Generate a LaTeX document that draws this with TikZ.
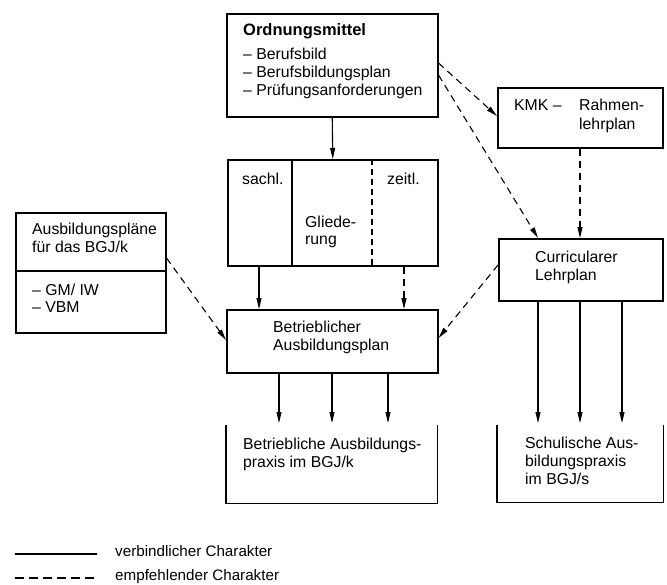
\documentclass[tikz,border=0pt]{standalone}
\usepackage{fontspec}
\setmainfont{Liberation Sans}
\usetikzlibrary{arrows.meta,calc}
\begin{document}
\begin{tikzpicture}[x=1pt,y=-1pt,
  box/.style={draw,line width=1.5pt,inner sep=0pt,anchor=north west},
  openbox/.style={inner sep=0pt,anchor=north west},
  txt/.style={anchor=mid west,inner sep=0pt,font=\fontsize{15.8}{18}\selectfont},
  ltxt/.style={anchor=mid west,inner sep=0pt,font=\fontsize{15.2}{18}\selectfont},
  arr/.style={line width=1.1pt,-{Triangle[length=11pt,width=5pt]}},
  darr/.style={line width=1.1pt,dash pattern=on 7pt off 5pt,-{Triangle[length=11pt,width=5pt]}},
  dline/.style={line width=1.1pt,dash pattern=on 9pt off 5pt}]
\useasboundingbox (0,0) rectangle (667,584);
% boxes
\node[box,minimum width=211,minimum height=103] (om) at (226,13) {};
\node[box,minimum width=165,minimum height=60] (kmk) at (497,87) {};
\node[box,minimum width=210,minimum height=106] (gl) at (227,159) {};
\node[box,minimum width=150,minimum height=120] (ap) at (15,212) {};
\node[box,minimum width=164,minimum height=62] (cl) at (498,238) {};
\node[box,minimum width=211,minimum height=63] (bp) at (226,309) {};
\node[openbox,minimum width=211,minimum height=78] (bx) at (226,425) {};
\node[openbox,minimum width=166,minimum height=77] (sx) at (497,425) {};
\draw[line width=1.5pt] (bx.north west) |- (bx.south east) -- (bx.north east);
\draw[line width=1.5pt] (sx.north west) |- (sx.south east) -- (sx.north east);
% dividers
\draw[line width=1.3pt] (292,0 |- gl.north) -- (292,0 |- gl.south);
\draw[line width=1.3pt,dash pattern=on 6pt off 4pt] (372,0 |- gl.north) -- (372,0 |- gl.south);
\draw[line width=1.3pt] (ap.west |- 0,271) -- (ap.east |- 0,271);
% texts
\node[txt,font=\fontsize{16.5}{18}\selectfont\bfseries] (t1) at (243,33) {Ordnungsmittel};
\node[txt] (t2) at (243,57) {– Berufsbild};
\node[txt] (t3) at (243,75) {– Berufsbildungsplan};
\node[txt] (t4) at (243,93) {– Prüfungsanforderungen};
\node[txt] (t5) at (514,108) {KMK –};
\node[txt] (t6) at (579,108) {Rahmen-};
\node[txt] (t7) at (579,127) {lehrplan};
\node[txt] (t8) at (242,182) {sachl.};
\node[txt] (t9) at (387,182) {zeitl.};
\node[txt] (t10) at (305,225) {Gliede-};
\node[txt] (t11) at (305,242) {rung};
\node[txt] (t12) at (32,232) {Ausbildungspläne};
\node[txt] (t13) at (32,250) {für das BGJ/k};
\node[txt] (t14) at (32,293) {– GM/ IW};
\node[txt] (t15) at (32,310) {– VBM};
\node[txt] (t16) at (535,260) {Curricularer};
\node[txt] (t17) at (535,278) {Lehrplan};
\node[txt] (t18) at (273,330) {Betrieblicher};
\node[txt] (t19) at (273,348) {Ausbildungsplan};
\node[txt] (t20) at (243,447) {Betriebliche Ausbildungs-};
\node[txt] (t21) at (243,465) {praxis im BGJ/k};
\node[txt] (t22) at (525,446) {Schulische Aus-};
\node[txt] (t23) at (525,464) {bildungspraxis};
\node[txt] (t24) at (525,482) {im BGJ/s};
% connectors
\draw[arr] (om.south) -- (gl.north);
\draw[arr] (259,0 |- gl.south) -- (259,0 |- bp.north);
\draw[darr] (404,0 |- gl.south) -- (404,0 |- bp.north);
\draw[darr] (om.east |- 0,63) -- (kmk.west |- 0,116);
\draw[darr] (om.east |- 0,75) -- (538,0 |- cl.north);
\draw[darr] (580,0 |- kmk.south) -- (580,0 |- cl.north);
\draw[darr] (ap.east |- 0,258) -- (bp.west |- 0,340);
\draw[darr] (cl.west |- 0,265) -- (bp.east |- 0,338);
\foreach \x in {279,332,388}{\draw[arr] (\x,0 |- bp.south) -- (\x,423);}
\foreach \x in {538,580,622}{\draw[arr] (\x,0 |- cl.south) -- (\x,423);}
% legend
\coordinate (l1a) at (15,554); \coordinate (l1b) at (97,554);
\coordinate (l2a) at (15,578); \coordinate (l2b) at (97,578);
\draw[line width=1.1pt] (l1a) -- (l1b);
\draw[dline] (l2a) -- (l2b);
\node[ltxt] (t25) at (115,554) {verbindlicher Charakter};
\node[ltxt] (t26) at (115,578) {empfehlender Charakter};
\end{tikzpicture}
\end{document}
